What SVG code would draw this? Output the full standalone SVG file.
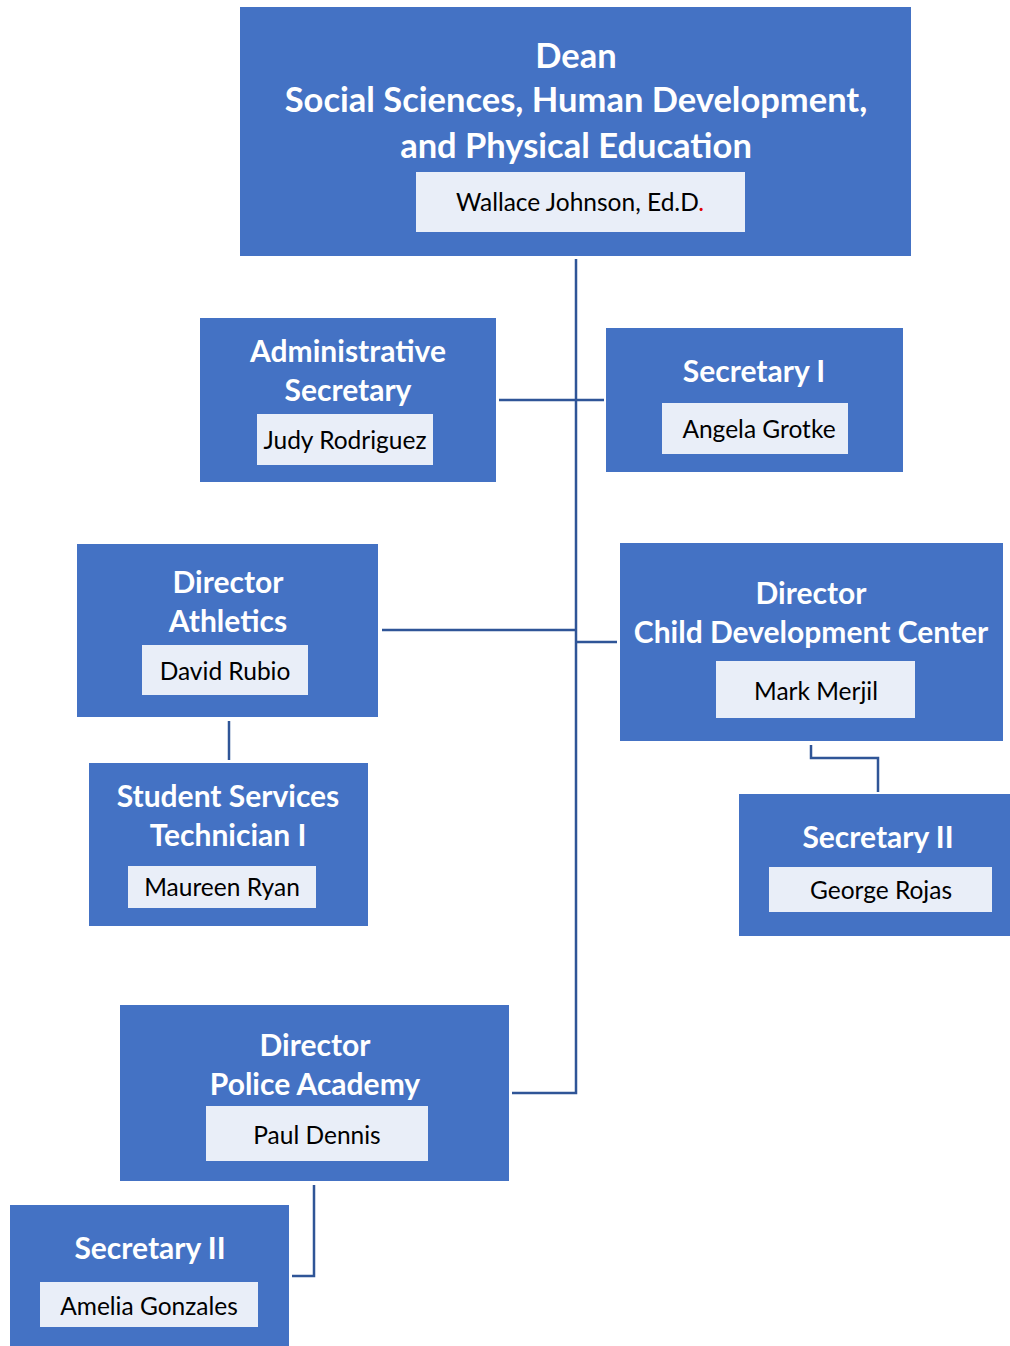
<svg xmlns="http://www.w3.org/2000/svg" width="1010" height="1346" viewBox="0 0 1010 1346">
<style>
.box{fill:#4472C4}
.nm{fill:#E9EEF8}
.t{font-family:Lato,"Open Sans","Liberation Sans",sans-serif;font-weight:bold;fill:#FFFFFF;text-anchor:middle;font-size:30px}
.d{font-size:34.5px}
.n{font-family:Lato,"Open Sans","Liberation Sans",sans-serif;fill:#000000;text-anchor:middle;font-size:24.5px}
.c{fill:none;stroke:#2F5597;stroke-width:2.5}
</style>
<rect width="1010" height="1346" fill="#FFFFFF"/>
<g id="connectors">
<path class="c" d="M576 259 V1093 H512"/>
<path class="c" d="M499 400 H604"/>
<path class="c" d="M382 630 H576"/>
<path class="c" d="M576 642 H617"/>
<path class="c" d="M811 745 V758 H878 V792"/>
<path class="c" d="M229 721 V760"/>
<path class="c" d="M314 1185 V1276 H292"/>
</g>
<g id="dean">
<rect class="box" x="240" y="7" width="671" height="249"/>
<text class="t d" x="576" y="68">Dean</text>
<text class="t d" x="576" y="112">Social Sciences, Human Development,</text>
<text class="t d" x="576" y="158">and Physical Education</text>
<rect class="nm" x="416" y="172" width="329" height="60"/>
<text class="n" x="580" y="211">Wallace Johnson, Ed.D<tspan fill="#E00000">.</tspan></text>
</g>
<g id="admin-secretary">
<rect class="box" x="200" y="318" width="296" height="164"/>
<text class="t" x="348" y="362">Administrative</text>
<text class="t" x="348" y="401">Secretary</text>
<rect class="nm" x="257" y="414" width="176" height="51"/>
<text class="n" x="345" y="449">Judy Rodriguez</text>
</g>
<g id="secretary-1">
<rect class="box" x="606" y="328" width="297" height="144"/>
<text class="t" x="754" y="382">Secretary I</text>
<rect class="nm" x="662" y="403" width="186" height="51"/>
<text class="n" x="759" y="438">Angela Grotke</text>
</g>
<g id="director-athletics">
<rect class="box" x="77" y="544" width="301" height="173"/>
<text class="t" x="228" y="593">Director</text>
<text class="t" x="228" y="632">Athletics</text>
<rect class="nm" x="142" y="645" width="166" height="50"/>
<text class="n" x="225" y="680">David Rubio</text>
</g>
<g id="student-services-technician">
<rect class="box" x="89" y="763" width="279" height="163"/>
<text class="t" x="228" y="807">Student Services</text>
<text class="t" x="228" y="846">Technician I</text>
<rect class="nm" x="128" y="866" width="188" height="42"/>
<text class="n" x="222" y="896">Maureen Ryan</text>
</g>
<g id="director-child-development">
<rect class="box" x="620" y="543" width="383" height="198"/>
<text class="t" x="811" y="604">Director</text>
<text class="t" x="811" y="643">Child Development Center</text>
<rect class="nm" x="716" y="661" width="199" height="57"/>
<text class="n" x="816" y="700">Mark Merjil</text>
</g>
<g id="secretary-2-cdc">
<rect class="box" x="739" y="794" width="271" height="142"/>
<text class="t" x="878" y="848">Secretary II</text>
<rect class="nm" x="769" y="867" width="223" height="45"/>
<text class="n" x="881" y="899">George Rojas</text>
</g>
<g id="director-police-academy">
<rect class="box" x="120" y="1005" width="389" height="176"/>
<text class="t" x="315" y="1056">Director</text>
<text class="t" x="315" y="1095">Police Academy</text>
<rect class="nm" x="206" y="1106" width="222" height="55"/>
<text class="n" x="317" y="1144">Paul Dennis</text>
</g>
<g id="secretary-2-police">
<rect class="box" x="10" y="1205" width="279" height="141"/>
<text class="t" x="150" y="1259">Secretary II</text>
<rect class="nm" x="40" y="1282" width="218" height="45"/>
<text class="n" x="149" y="1315">Amelia Gonzales</text>
</g>
</svg>
